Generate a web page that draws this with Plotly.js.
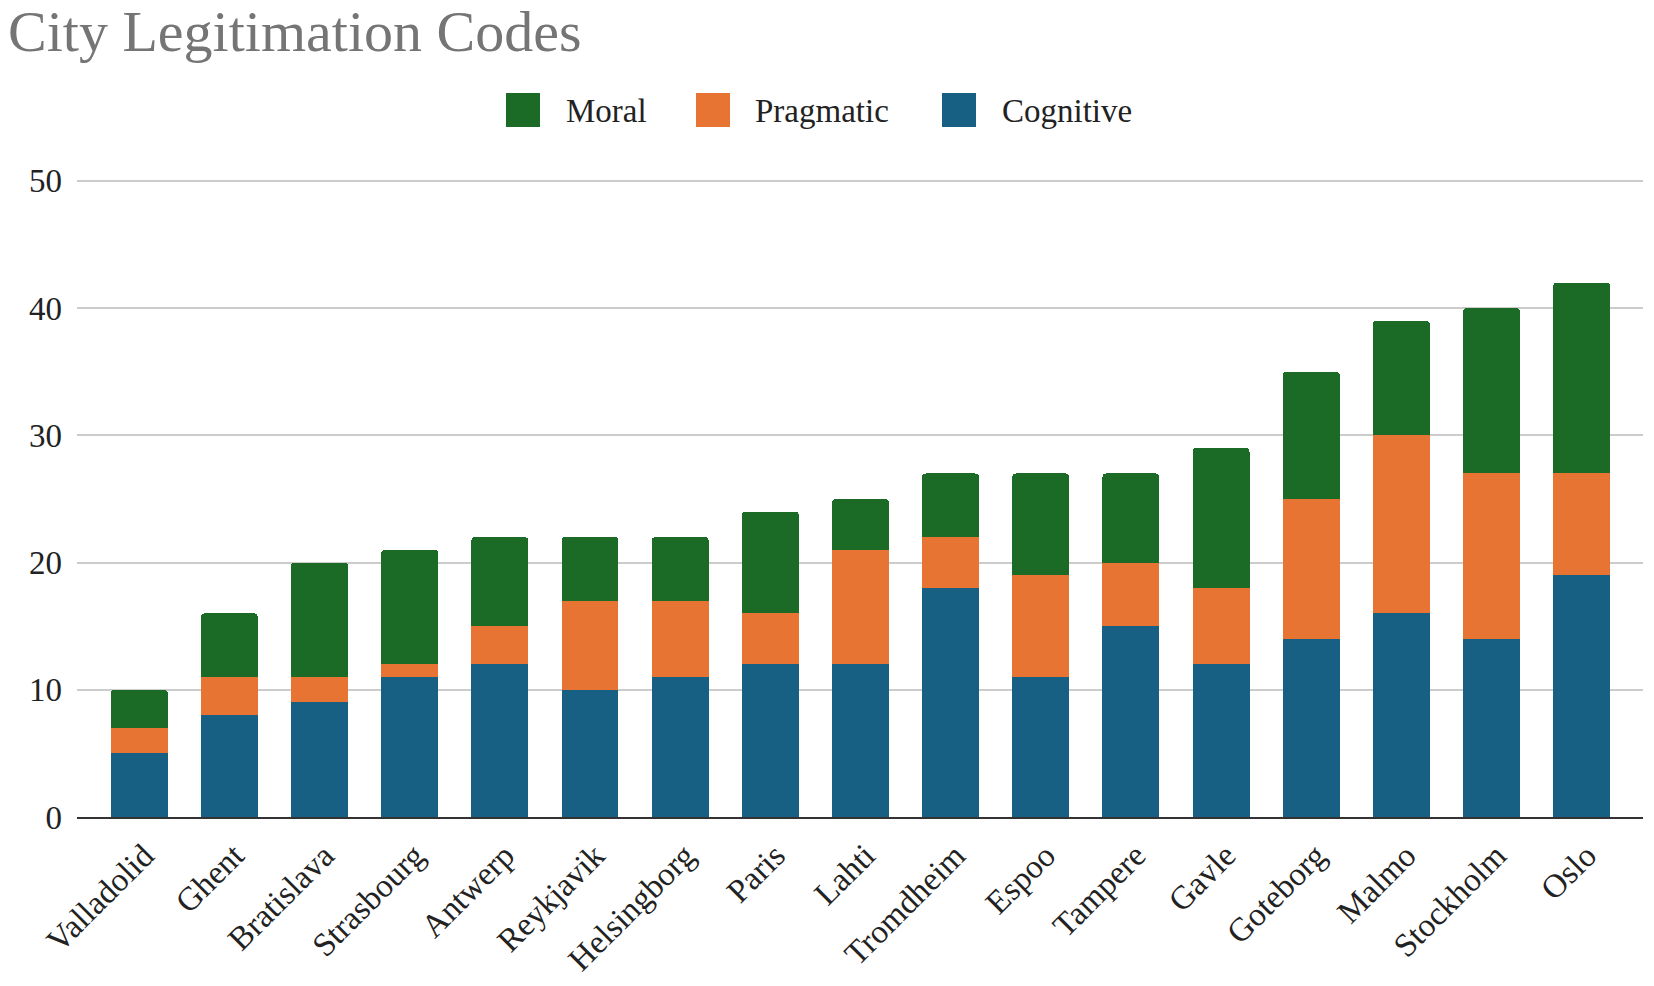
<!DOCTYPE html>
<html>
<head>
<meta charset="utf-8">
<script src="https://cdn.plot.ly/plotly-3.0.1.min.js"></script>
<style>
  html, body { margin: 0; padding: 0; background: #fff; }
  #chart { width: 1654px; height: 986px; }
</style>
</head>
<body>
<div id="chart"></div>
<script>
// data
const cities = ['Valladolid', 'Ghent', 'Bratislava', 'Strasbourg', 'Antwerp', 'Reykjavik',
  'Helsingborg', 'Paris', 'Lahti', 'Tromdheim', 'Espoo', 'Tampere', 'Gavle',
  'Goteborg', 'Malmo', 'Stockholm', 'Oslo'];
const cognitive = [5, 8, 9, 11, 12, 10, 11, 12, 12, 18, 11, 15, 12, 14, 16, 14, 19];
const pragmatic = [2, 3, 2, 1, 3, 7, 6, 4, 9, 4, 8, 5, 6, 11, 14, 13, 8];
const moral = [3, 5, 9, 9, 7, 5, 5, 8, 4, 5, 8, 7, 11, 10, 9, 13, 15];
const yTicks = [0, 10, 20, 30, 40, 50];

const colors = { moral: '#1b6a25', pragmatic: '#e87434', cognitive: '#176083' };
const serif = '"Liberation Serif", "Times New Roman", serif';

// plot area in pixels (top a little above the 50 line so its gridline shows)
const W = 1654, H = 986;
const plot = { l: 77, r: 1643, t: 177, b: 817 };
const yMax = 50.3;
const px2x = p => (p - plot.l) / (plot.r - plot.l);
const px2y = p => (plot.b - p) / (plot.b - plot.t);

function drawChart() {
    const traces = [
        { name: 'Cognitive', y: cognitive, marker: { color: colors.cognitive } },
        { name: 'Pragmatic', y: pragmatic, marker: { color: colors.pragmatic } },
        { name: 'Moral', y: moral, marker: { color: colors.moral } }
    ].map(t => ({ ...t, x: cities, type: 'bar', showlegend: false, hoverinfo: 'x+y+name' }));

    // legend drawn by hand (big squares like the original)
    const legendItems = [
        { name: 'Moral', color: colors.moral, box: 506, text: 564 },
        { name: 'Pragmatic', color: colors.pragmatic, box: 696, text: 753 },
        { name: 'Cognitive', color: colors.cognitive, box: 942, text: 1000 }
    ];
    const shapes = legendItems.map(it => ({
        type: 'rect', xref: 'paper', yref: 'paper',
        x0: px2x(it.box), x1: px2x(it.box + 34),
        y0: px2y(127), y1: px2y(93),
        fillcolor: it.color, line: { width: 0 }
    }));
    const annotations = legendItems.map(it => ({
        text: it.name, xref: 'paper', yref: 'paper',
        x: px2x(it.text), y: px2y(111), xanchor: 'left', yanchor: 'middle',
        showarrow: false, font: { family: serif, size: 33, color: '#222' }
    }));

    const layout = {
        width: W, height: H,
        paper_bgcolor: '#fff', plot_bgcolor: '#fff',
        font: { family: serif, size: 33, color: '#222' },
        margin: { l: plot.l, r: W - plot.r, t: plot.t, b: H - plot.b, pad: 0 },
        title: {
            text: 'City Legitimation Codes',
            font: { family: serif, size: 58, color: '#757575' },
            xref: 'container', x: 8 / W, xanchor: 'left',
            yref: 'container', y: 1 - 31 / H, yanchor: 'middle'
        },
        barmode: 'stack',
        bargap: 0.368,
        barcornerradius: 4,
        showlegend: false,
        xaxis: {
            type: 'category',
            range: [-0.69, 16.68],
            tickangle: -45,
            showgrid: false,
            showline: true, linecolor: '#333', linewidth: 2,
            ticks: '',
            ticklabelstandoff: 4,
            ticklabelshift: 5,
            tickfont: { family: serif, size: 33, color: '#222' }
        },
        yaxis: {
            range: [0, yMax],
            tickvals: yTicks,
            showgrid: true, gridcolor: '#cccccc', gridwidth: 2,
            zeroline: false,
            ticks: '',
            ticklabelstandoff: 14,
            tickfont: { family: serif, size: 33, color: '#222' }
        },
        shapes: shapes,
        annotations: annotations
    };

    Plotly.newPlot('chart', traces, layout, { displayModeBar: false, staticPlot: true });
}

drawChart();
</script>
</body>
</html>
